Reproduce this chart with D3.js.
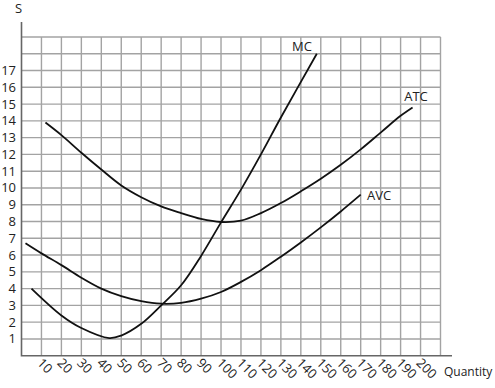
<!DOCTYPE html>
<html>
<head>
<meta charset="utf-8">
<script src="https://cdn.jsdelivr.net/npm/d3@7"></script>
<style>
  body { margin: 0; background: #fff; }
  text { font-family: "Open Sans", "Liberation Sans", sans-serif; fill: #222; }
  .grid line { stroke: #a3a3a3; stroke-width: 1.4; }
  .axis { stroke: #666; stroke-width: 1.6; }
  .curve { fill: none; stroke: #111; stroke-width: 1.8; }
</style>
</head>
<body>
<script>
const width = 495,
  height = 388;

const xTicks = d3.range(10, 201, 10);
const yTicks = d3.range(1, 18);

const mcQ = [5, 20, 30, 44, 50, 60, 70, 80, 90, 100, 110, 120, 130, 148];
const mcV = [4, 2.4, 1.65, 1.05, 1.2, 1.9, 3.0, 4.2, 5.95, 7.95, 9.9, 12, 14.2, 18];

const atcQ = [12, 20, 30, 40, 50, 60, 70, 80, 90, 100, 110, 120, 130, 140, 150, 160, 170, 180, 190, 196];
const atcV = [13.9, 13.15, 12.1, 11.1, 10.15, 9.45, 8.9, 8.5, 8.15, 7.97, 8.05, 8.5, 9.1, 9.8, 10.55, 11.38, 12.3, 13.3, 14.3, 14.8];

const avcQ = [2, 10, 20, 30, 40, 50, 60, 70, 80, 90, 100, 110, 120, 130, 140, 150, 160, 170];
const avcV = [6.7, 6.1, 5.4, 4.65, 4.0, 3.55, 3.25, 3.1, 3.15, 3.4, 3.8, 4.4, 5.1, 5.9, 6.75, 7.65, 8.6, 9.6];

const x = d3.scaleLinear().domain([0, 210]).range([21.5, 440.5]);
const y = d3.scaleLinear().domain([0, 19]).range([355.7, 37]);

const svg = d3
  .select("body")
  .append("svg")
  .attr("width", width)
  .attr("height", height);

// grid
const grid = svg.append("g").attr("class", "grid");
grid
  .selectAll("line.v")
  .data(d3.range(10, 211, 10))
  .enter()
  .append("line")
  .attr("x1", (d) => x(d))
  .attr("x2", (d) => x(d))
  .attr("y1", y(0))
  .attr("y2", y(19));
grid
  .selectAll("line.h")
  .data(d3.range(1, 20))
  .enter()
  .append("line")
  .attr("x1", x(0))
  .attr("x2", x(210))
  .attr("y1", (d) => y(d))
  .attr("y2", (d) => y(d));

// axes
svg
  .append("path")
  .attr("class", "axis")
  .attr("fill", "none")
  .attr("d", `M${x(0)},22 L${x(0)},${y(0)} L452,${y(0)}`);

// y tick labels
svg
  .selectAll("text.ylab")
  .data(yTicks)
  .enter()
  .append("text")
  .attr("x", 16)
  .attr("y", (d) => y(d) + 4.5)
  .attr("text-anchor", "end")
  .style("font-size", "13px")
  .text((d) => d);

// x tick labels, rotated
svg
  .selectAll("text.xlab")
  .data(xTicks)
  .enter()
  .append("text")
  .attr("transform", (d) => `translate(${x(d) - 5},${y(0) + 8}) rotate(45)`)
  .attr("text-anchor", "start")
  .style("font-size", "13px")
  .text((d) => d);

svg
  .append("text")
  .attr("x", 15)
  .attr("y", 13)
  .style("font-size", "13px")
  .text("S");

svg
  .append("text")
  .attr("x", 444)
  .attr("y", 376)
  .style("font-size", "12px")
  .text("Quantity");

const line = d3
  .line()
  .x((d) => x(d[0]))
  .y((d) => y(d[1]))
  .curve(d3.curveCatmullRom.alpha(0.5));

const curves = [
  { name: "MC", q: mcQ, v: mcV, lx: 302, ly: 51 },
  { name: "ATC", q: atcQ, v: atcV, lx: 416, ly: 101 },
  { name: "AVC", q: avcQ, v: avcV, lx: 379, ly: 200 },
];

curves.forEach((c) => {
  svg
    .append("path")
    .attr("class", "curve")
    .attr("d", line(d3.zip(c.q, c.v)));
  svg
    .append("text")
    .attr("x", c.lx)
    .attr("y", c.ly)
    .attr("text-anchor", "middle")
    .style("font-size", "13px")
    .text(c.name);
});
</script>
</body>
</html>
